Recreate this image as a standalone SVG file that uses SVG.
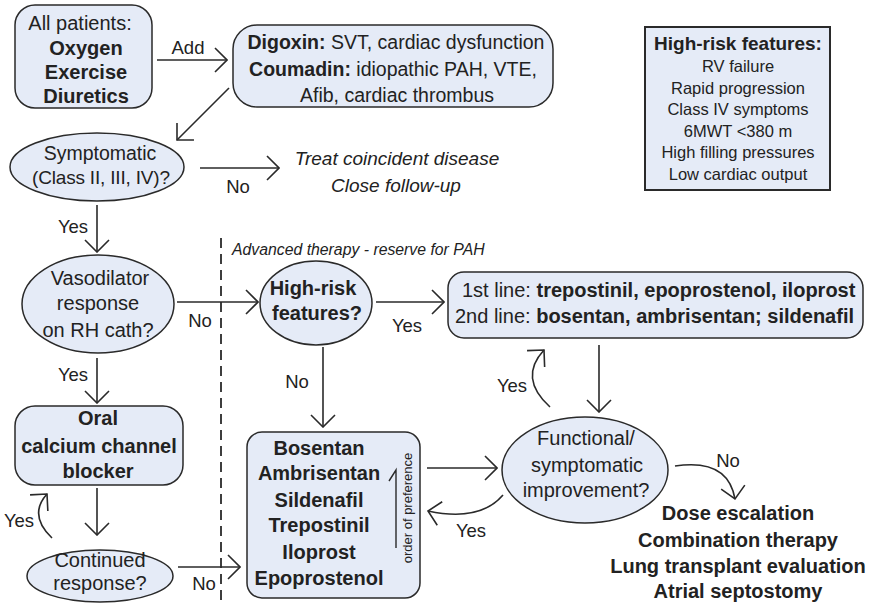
<svg xmlns="http://www.w3.org/2000/svg" width="872" height="606" viewBox="0 0 872 606">
  <style>
    .box { fill: #e5ebf7; stroke: #2a2a2a; stroke-width: 1.5; }
    .panel { fill: #e5ebf7; stroke: #2a2a2a; stroke-width: 2; }
    text { font-family: "Liberation Sans", Arial, sans-serif; fill: #222; }
    .c { text-anchor: middle; }
    .m { font-size: 20px; }
    .b { font-weight: bold; }
    .i { font-style: italic; }
    .lbl { font-size: 18.5px; text-anchor: middle; }
    .edge { fill: none; stroke: #2a2a2a; stroke-width: 1.6; marker-end: url(#chev); }
    .divider { fill: none; stroke: #2a2a2a; stroke-width: 1.8; stroke-dasharray: 10 6; }
  </style>
  <defs>
    <marker id="chev" markerUnits="userSpaceOnUse" viewBox="0 0 14 26" refX="13" refY="13" markerWidth="14" markerHeight="26" orient="auto">
      <path d="M1,1 L13,13 L1,25" fill="none" stroke="#2a2a2a" stroke-width="1.6"/>
    </marker>
  </defs>

  <rect width="872" height="606" fill="#ffffff"/>

  <!-- divider between basic and advanced therapy -->
  <line class="divider" x1="221" y1="238" x2="221" y2="606"/>
  <text class="i" x="232" y="255" font-size="15.8">Advanced therapy - reserve for PAH</text>

  <g id="all-patients">
    <rect class="box" x="15" y="5" width="137" height="103" rx="20"/>
    <text class="m c" x="80" y="30">All patients:</text>
    <text class="m c b" x="86" y="55">Oxygen</text>
    <text class="m c b" x="86" y="79">Exercise</text>
    <text class="m c b" x="86" y="103">Diuretics</text>
  </g>

  <g id="adjuncts">
    <rect class="box" x="233" y="25" width="320" height="82" rx="24"/>
    <text class="c" x="396" y="49" font-size="19.5"><tspan class="b">Digoxin:</tspan> SVT, cardiac dysfunction</text>
    <text class="c" x="393" y="76" font-size="19.5"><tspan class="b">Coumadin:</tspan> idiopathic PAH, VTE,</text>
    <text class="c" x="397" y="102" font-size="19.5">Afib, cardiac thrombus</text>
  </g>

  <g id="high-risk-legend">
    <rect class="panel" x="645" y="27" width="185" height="163"/>
    <text class="c b" x="738" y="50" font-size="19">High-risk features:</text>
    <text class="c" x="738" y="72" font-size="16.5">RV failure</text>
    <text class="c" x="738" y="94" font-size="16.5">Rapid progression</text>
    <text class="c" x="738" y="115" font-size="16.5">Class IV symptoms</text>
    <text class="c" x="738" y="137" font-size="16.5">6MWT &lt;380 m</text>
    <text class="c" x="738" y="158" font-size="16.5">High filling pressures</text>
    <text class="c" x="738" y="180" font-size="16.5">Low cardiac output</text>
  </g>

  <g id="symptomatic">
    <ellipse class="box" cx="97" cy="167" rx="87" ry="34"/>
    <text class="c" x="100" y="160" font-size="19.5">Symptomatic</text>
    <text class="c" x="101" y="184" font-size="19" textLength="138">(Class II, III, IV)?</text>
  </g>

  <g id="treat-coincident">
    <text class="c i" x="397" y="165" font-size="19">Treat coincident disease</text>
    <text class="c i" x="396" y="192" font-size="19">Close follow-up</text>
  </g>

  <g id="vasodilator">
    <ellipse class="box" cx="98" cy="304" rx="76" ry="49"/>
    <text class="m c" x="100" y="285">Vasodilator</text>
    <text class="m c" x="98" y="310">response</text>
    <text class="m c" x="98" y="337">on RH cath?</text>
  </g>

  <g id="high-risk-question">
    <ellipse class="box" cx="316" cy="303" rx="56" ry="42"/>
    <text class="m c b" x="313" y="295">High-risk</text>
    <text class="m c b" x="317" y="320">features?</text>
  </g>

  <g id="first-second-line">
    <rect class="box" x="448" y="272" width="415" height="66" rx="16"/>
    <text class="m" x="462" y="297">1st line: <tspan class="b">trepostinil, epoprostenol, iloprost</tspan></text>
    <text class="m" x="455" y="323">2nd line: <tspan class="b">bosentan, ambrisentan; sildenafil</tspan></text>
  </g>

  <g id="calcium-channel-blocker">
    <rect class="box" x="15" y="406" width="168" height="79" rx="20"/>
    <text class="m c b" x="98" y="425">Oral</text>
    <text class="m c b" x="99" y="453">calcium channel</text>
    <text class="m c b" x="98" y="478">blocker</text>
  </g>

  <g id="continued-response">
    <ellipse class="box" cx="100" cy="576" rx="73" ry="26"/>
    <text class="m c" x="100" y="567">Continued</text>
    <text class="m c" x="100" y="590">response?</text>
  </g>

  <g id="oral-agents">
    <rect class="box" x="247" y="432" width="173" height="166" rx="15"/>
    <text class="m c b" x="319" y="455">Bosentan</text>
    <text class="m c b" x="319" y="480">Ambrisentan</text>
    <text class="m c b" x="319" y="507">Sildenafil</text>
    <text class="m c b" x="319" y="532">Trepostinil</text>
    <text class="m c b" x="319" y="559">Iloprost</text>
    <text class="m c b" x="319" y="585">Epoprostenol</text>
    <path d="M389 481 L396 470 L396 548" fill="none" stroke="#2a2a2a" stroke-width="1.4"/>
    <text class="c" transform="translate(412 508) rotate(-90)" font-size="13" fill="#444">order of preference</text>
  </g>

  <g id="functional-improvement">
    <ellipse class="box" cx="585" cy="470" rx="83" ry="53"/>
    <text class="m c" x="586" y="445">Functional/</text>
    <text class="m c" x="587" y="472">symptomatic</text>
    <text class="m c" x="586" y="497">improvement?</text>
  </g>

  <g id="escalation">
    <text class="m c b" x="738" y="520">Dose escalation</text>
    <text class="m c b" x="738" y="547">Combination therapy</text>
    <text class="m c b" x="738" y="573">Lung transplant evaluation</text>
    <text class="m c b" x="738" y="598">Atrial septostomy</text>
  </g>

  <g id="connectors">
    <line class="edge" x1="157" y1="60" x2="227" y2="60"/>
    <line class="edge" x1="229" y1="88" x2="177" y2="140"/>
    <line class="edge" x1="200" y1="168" x2="279" y2="168"/>
    <line class="edge" x1="97" y1="205" x2="97" y2="252"/>
    <line class="edge" x1="177" y1="302" x2="258" y2="302"/>
    <line class="edge" x1="376" y1="302" x2="444" y2="302"/>
    <line class="edge" x1="97" y1="358" x2="97" y2="403"/>
    <line class="edge" x1="323" y1="347" x2="323" y2="427"/>
    <line class="edge" x1="599" y1="345" x2="599" y2="412"/>
    <path class="edge" d="M550 407 Q518 378 544 350"/>
    <line class="edge" x1="97" y1="488" x2="97" y2="535"/>
    <path class="edge" d="M52 538 Q28 515 47 494"/>
    <line class="edge" x1="178" y1="567" x2="240" y2="567"/>
    <line class="edge" x1="427" y1="468" x2="497" y2="468"/>
    <path class="edge" d="M503 495 Q480 522 428 511"/>
    <path class="edge" d="M675 466 Q728 458 735 499"/>

    <text class="lbl" x="188" y="54">Add</text>
    <text class="lbl" x="238" y="193">No</text>
    <text class="lbl" x="73" y="233">Yes</text>
    <text class="lbl" x="200" y="327">No</text>
    <text class="lbl" x="407" y="332">Yes</text>
    <text class="lbl" x="73" y="381">Yes</text>
    <text class="lbl" x="297" y="388">No</text>
    <text class="lbl" x="512" y="392">Yes</text>
    <text class="lbl" x="19" y="527">Yes</text>
    <text class="lbl" x="204" y="590">No</text>
    <text class="lbl" x="471" y="537">Yes</text>
    <text class="lbl" x="728" y="467">No</text>
  </g>
</svg>
